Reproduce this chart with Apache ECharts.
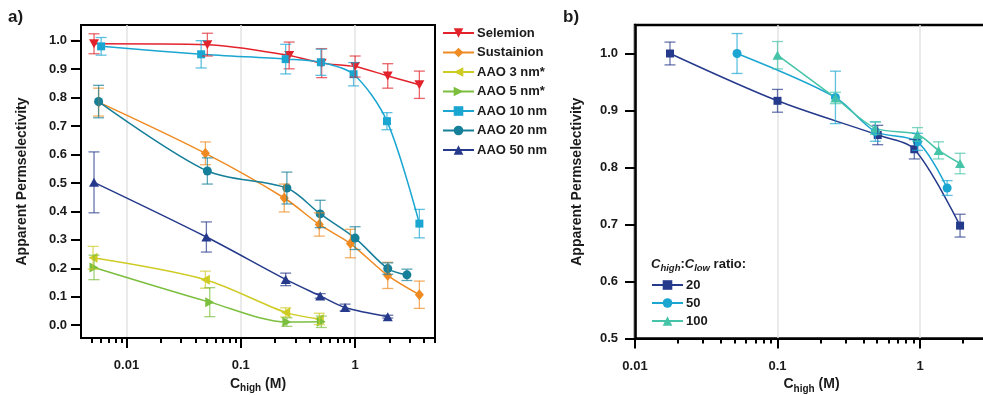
<!DOCTYPE html>
<html>
<head>
<meta charset="utf-8">
<script src="https://cdn.jsdelivr.net/npm/echarts@6/dist/echarts.min.js"></script>
<style>
  html, body { margin: 0; padding: 0; background: #fff; }
  #chart { width: 983px; height: 395px; }
</style>
</head>
<body>
<div id="chart"></div>
<script>
// ---- Panel a: apparent permselectivity of each membrane vs. C_high (M) ----
const selemionC = [0.0052, 0.051, 0.265, 0.51, 1.0, 1.93, 3.65];
const selemionP = [0.989, 0.986, 0.948, 0.921, 0.909, 0.876, 0.845];
const selemionE = [0.035, 0.040, 0.047, 0.051, 0.037, 0.043, 0.048];

const sustainionC = [0.0057, 0.049, 0.24, 0.486, 0.91, 1.93, 3.65];
const sustainionP = [0.784, 0.604, 0.447, 0.354, 0.287, 0.175, 0.107];
const sustainionE = [0.049, 0.040, 0.049, 0.041, 0.050, 0.046, 0.048];

const aao3C = [0.0051, 0.049, 0.247, 0.486];
const aao3P = [0.237, 0.160, 0.045, 0.022];
const aao3E = [0.040, 0.030, 0.016, 0.020];

const aao5C = [0.0052, 0.0535, 0.253, 0.506];
const aao5P = [0.203, 0.081, 0.011, 0.012];
const aao5E = [0.043, 0.051, 0.015, 0.020];

const aao10C = [0.006, 0.045, 0.247, 0.502, 0.97, 1.9, 3.65];
const aao10P = [0.980, 0.952, 0.935, 0.924, 0.882, 0.717, 0.357];
const aao10E = [0.031, 0.048, 0.052, 0.046, 0.041, 0.030, 0.050];

const aao20C = [0.0057, 0.051, 0.253, 0.495, 1.0, 1.93, 2.84];
const aao20P = [0.786, 0.542, 0.482, 0.391, 0.306, 0.199, 0.177];
const aao20E = [0.057, 0.046, 0.056, 0.048, 0.040, 0.020, 0.020];

const aao50C = [0.0052, 0.05, 0.247, 0.495, 0.817, 1.93];
const aao50P = [0.502, 0.310, 0.161, 0.103, 0.062, 0.030];
const aao50E = [0.107, 0.053, 0.022, 0.008, 0.012, 0.005];

// ---- Panel b: C_high:C_low ratio series ----
const ratio20C = [0.0176, 0.1, 0.505, 0.912, 1.91];
const ratio20P = [1.000, 0.917, 0.857, 0.832, 0.698];
const ratio20E = [0.020, 0.020, 0.017, 0.017, 0.020];

const ratio50C = [0.052, 0.255, 0.486, 0.96, 1.55];
const ratio50P = [1.000, 0.923, 0.863, 0.845, 0.764];
const ratio50E = [0.035, 0.046, 0.017, 0.015, 0.013];

const ratio100C = [0.1, 0.255, 0.486, 0.96, 1.35, 1.91];
const ratio100P = [0.997, 0.922, 0.869, 0.858, 0.830, 0.807];
const ratio100E = [0.024, 0.010, 0.011, 0.012, 0.015, 0.018];

// ---- Tick labels ----
const xMajorTicksA = [0.01, 0.1, 1];
const xMajorLabelsA = ['0.01', '0.1', '1'];
const xMinorTicksA = [0.005, 0.006, 0.007, 0.008, 0.009,
  0.02, 0.03, 0.04, 0.05, 0.06, 0.07, 0.08, 0.09,
  0.2, 0.3, 0.4, 0.5, 0.6, 0.7, 0.8, 0.9, 2, 3, 4, 5];
const yTicksA = [0.0, 0.1, 0.2, 0.3, 0.4, 0.5, 0.6, 0.7, 0.8, 0.9, 1.0];

const xMajorTicksB = [0.01, 0.1, 1];
const xMajorLabelsB = ['0.01', '0.1', '1'];
const xMinorTicksB = [0.02, 0.03, 0.04, 0.05, 0.06, 0.07, 0.08, 0.09,
  0.2, 0.3, 0.4, 0.5, 0.6, 0.7, 0.8, 0.9, 2];
const yTicksB = [0.5, 0.6, 0.7, 0.8, 0.9, 1.0];
const yMinorTicksB = [0.55, 0.65, 0.75, 0.85, 0.95, 1.05];

const FONT = "'Liberation Sans', Arial, Helvetica, sans-serif";
const INK = '#1a1a1a';

const lg = Math.log10;

// Down / left / right pointing triangles as paths
const TRI_DOWN = 'path://M0,0 L10,0 L5,9 Z';
const TRI_LEFT = 'path://M9,0 L9,10 L0,5 Z';
const TRI_RIGHT = 'path://M0,0 L0,10 L9,5 Z';

const panelA = [
  { name: 'Selemion',   c: selemionC,   p: selemionP,   e: selemionE,   color: '#e3232c', symbol: TRI_DOWN,  size: [10, 9] },
  { name: 'Sustainion', c: sustainionC, p: sustainionP, e: sustainionE, color: '#ef8b22', symbol: 'diamond', size: [9, 11] },
  { name: 'AAO 3 nm*',  c: aao3C,       p: aao3P,       e: aao3E,       color: '#cfcb25', symbol: TRI_LEFT,  size: [9, 10] },
  { name: 'AAO 5 nm*',  c: aao5C,       p: aao5P,       e: aao5E,       color: '#7cbf3f', symbol: TRI_RIGHT, size: [9, 10] },
  { name: 'AAO 10 nm',  c: aao10C,      p: aao10P,      e: aao10E,      color: '#1ba6d2', symbol: 'rect',    size: 8 },
  { name: 'AAO 20 nm',  c: aao20C,      p: aao20P,      e: aao20E,      color: '#167f99', symbol: 'circle',  size: 9 },
  { name: 'AAO 50 nm',  c: aao50C,      p: aao50P,      e: aao50E,      color: '#263a8c', symbol: 'triangle', size: [10, 9] }
];

const panelB = [
  { name: '20',  c: ratio20C,  p: ratio20P,  e: ratio20E,  color: '#263a8c', symbol: 'rect',     size: 8 },
  { name: '50',  c: ratio50C,  p: ratio50P,  e: ratio50E,  color: '#1ba6d2', symbol: 'circle',   size: 9 },
  { name: '100', c: ratio100C, p: ratio100P, e: ratio100E, color: '#46c4a8', symbol: 'triangle', size: [10, 9] }
];

function errorBarRenderer(color) {
  return function (params, api) {
    const x = api.value(0);
    const lo = api.coord([x, api.value(1)]);
    const hi = api.coord([x, api.value(2)]);
    const hw = 5.5;
    const style = { stroke: color, lineWidth: 1.3, opacity: 0.7 };
    return {
      type: 'group',
      children: [
        { type: 'line', shape: { x1: lo[0], y1: lo[1], x2: hi[0], y2: hi[1] }, style },
        { type: 'line', shape: { x1: lo[0] - hw, y1: lo[1], x2: lo[0] + hw, y2: lo[1] }, style },
        { type: 'line', shape: { x1: hi[0] - hw, y1: hi[1], x2: hi[0] + hw, y2: hi[1] }, style }
      ]
    };
  };
}

function buildSeries(list, xIdx, yIdx) {
  const out = [];
  list.forEach(s => {
    out.push({
      type: 'line', name: s.name, xAxisIndex: xIdx, yAxisIndex: yIdx,
      data: s.c.map((c, i) => [lg(c), s.p[i]]),
      smooth: 0.3,
      symbol: s.symbol, symbolSize: s.size,
      lineStyle: { color: s.color, width: 1.5 },
      itemStyle: { color: s.color },
      z: 3
    });
    out.push({
      type: 'custom', name: s.name + ' error', xAxisIndex: xIdx, yAxisIndex: yIdx,
      data: s.c.map((c, i) => [lg(c), s.p[i] - s.e[i], s.p[i] + s.e[i]]),
      encode: { x: 0, y: [1, 2] },
      renderItem: errorBarRenderer(s.color),
      z: 4
    });
  });
  return out;
}

function labelFrom(majors, labels) {
  return v => {
    const i = majors.findIndex(m => Math.abs(lg(m) - v) < 1e-6);
    return i >= 0 ? labels[i] : '';
  };
}

const tickLabelStyle = { color: INK, fontFamily: FONT, fontWeight: 'bold', fontSize: 13 };
const nameStyleX = {
  color: INK,
  rich: {
    m: { fontFamily: FONT, fontWeight: 'bold', fontSize: 14, color: INK },
    s: { fontFamily: FONT, fontWeight: 'bold', fontSize: 10, color: INK, padding: [9, 0, 0, 0] }
  }
};
const nameStyleY = { color: INK, fontFamily: FONT, fontWeight: 'bold', fontSize: 14 };

function mainX(grid, min, max, majors, labels) {
  return {
    type: 'value', gridIndex: grid, position: 'bottom', min: lg(min), max: lg(max),
    name: '{m|C}{s|high}{m| (M)}', nameLocation: 'middle', nameGap: 34,
    nameTextStyle: nameStyleX,
    axisLine: { show: true, onZero: false, lineStyle: { color: '#000', width: 2 } },
    axisTick: { show: true, inside: false, length: 10, lineStyle: { color: '#000', width: 2 },
      customValues: majors.map(lg) },
    axisLabel: { show: true, margin: 21, ...tickLabelStyle,
      customValues: majors.map(lg), formatter: labelFrom(majors, labels) },
    splitLine: { show: true, lineStyle: { color: '#e3e3e3', width: 1.5 } }
  };
}

function minorX(grid, min, max, minors) {
  return {
    type: 'value', gridIndex: grid, position: 'bottom', min: lg(min), max: lg(max),
    axisLine: { show: false, onZero: false },
    axisTick: { show: true, inside: false, length: 5, lineStyle: { color: '#000', width: 2 },
      customValues: minors.map(lg) },
    axisLabel: { show: false },
    splitLine: { show: false }
  };
}

const legendText = { color: INK, fontFamily: FONT, fontWeight: 'bold', fontSize: 13, lineHeight: 14, padding: [0, 0, 0, -2] };

const option = {
  animation: false,
  backgroundColor: '#fff',
  grid: [
    { left: 81, top: 25, right: 548, bottom: 57, show: true, borderColor: '#000', borderWidth: 2,
      backgroundColor: 'transparent', containLabel: false, outerBoundsMode: 'none' },
    { left: 635, top: 25, width: 353, bottom: 56.5, show: true, borderColor: '#000', borderWidth: 2.5,
      backgroundColor: 'transparent', containLabel: false, outerBoundsMode: 'none' }
  ],
  xAxis: [
    mainX(0, 0.004, 5, xMajorTicksA, xMajorLabelsA),
    minorX(0, 0.004, 5, xMinorTicksA),
    mainX(1, 0.01, 3, xMajorTicksB, xMajorLabelsB),
    minorX(1, 0.01, 3, xMinorTicksB)
  ],
  yAxis: [
    {
      type: 'value', gridIndex: 0, min: -0.045, max: 1.055,
      name: 'Apparent Permselectivity', nameLocation: 'middle', nameGap: 52, nameTextStyle: nameStyleY,
      axisLine: { show: true, onZero: false, lineStyle: { color: '#000', width: 2 } },
      axisTick: { show: true, inside: false, length: 10, lineStyle: { color: '#000', width: 2 }, customValues: yTicksA },
      axisLabel: { show: true, margin: 14, ...tickLabelStyle, customValues: yTicksA, formatter: v => v.toFixed(1) },
      splitLine: { show: false }
    },
    {
      type: 'value', gridIndex: 1, min: 0.5, max: 1.05,
      name: 'Apparent Permselectivity', nameLocation: 'middle', nameGap: 51, nameTextStyle: nameStyleY,
      axisLine: { show: true, onZero: false, lineStyle: { color: '#000', width: 2.5 } },
      axisTick: { show: true, inside: false, length: 10, lineStyle: { color: '#000', width: 2 }, customValues: yTicksB },
      axisLabel: { show: true, margin: 17, ...tickLabelStyle, customValues: yTicksB, formatter: v => v.toFixed(1) },
      splitLine: { show: false }
    },
    {
      type: 'value', gridIndex: 1, min: 0.5, max: 1.05,
      axisLine: { show: false, onZero: false },
      axisTick: { show: true, inside: false, length: 5, lineStyle: { color: '#000', width: 2 }, customValues: yMinorTicksB },
      axisLabel: { show: false },
      splitLine: { show: false }
    }
  ],
  legend: [
    {
      orient: 'vertical', left: 442, top: 26, padding: 0, itemWidth: 31, itemHeight: 12, itemGap: 5.5,
      selectedMode: false,
      data: panelA.map(s => s.name),
      textStyle: legendText
    },
    {
      orient: 'vertical', left: 651, top: 278, padding: 0, itemWidth: 31, itemHeight: 12, itemGap: 4,
      selectedMode: false,
      data: panelB.map(s => s.name),
      textStyle: legendText
    }
  ],
  graphic: [
    { type: 'text', left: 8, top: 9, style: { text: 'a)', fill: INK, font: 'bold 17px ' + FONT } },
    { type: 'text', left: 563, top: 9, style: { text: 'b)', fill: INK, font: 'bold 17px ' + FONT } },
    {
      type: 'text', left: 651, top: 258,
      style: {
        text: '{ci|C}{si|high}{n|:}{ci|C}{si|low}{n| ratio:}',
        rich: {
          ci: { fontFamily: FONT, fontWeight: 'bold', fontStyle: 'italic', fontSize: 13, fill: INK },
          si: { fontFamily: FONT, fontWeight: 'bold', fontStyle: 'italic', fontSize: 9.5, fill: INK, padding: [8, 0, 0, 0] },
          n: { fontFamily: FONT, fontWeight: 'bold', fontSize: 13, fill: INK }
        }
      }
    }
  ],
  series: [].concat(buildSeries(panelA, 0, 0), buildSeries(panelB, 2, 1))
};

const chart = echarts.init(document.getElementById('chart'), null, { renderer: 'canvas' });
chart.setOption(option);
</script>
</body>
</html>
